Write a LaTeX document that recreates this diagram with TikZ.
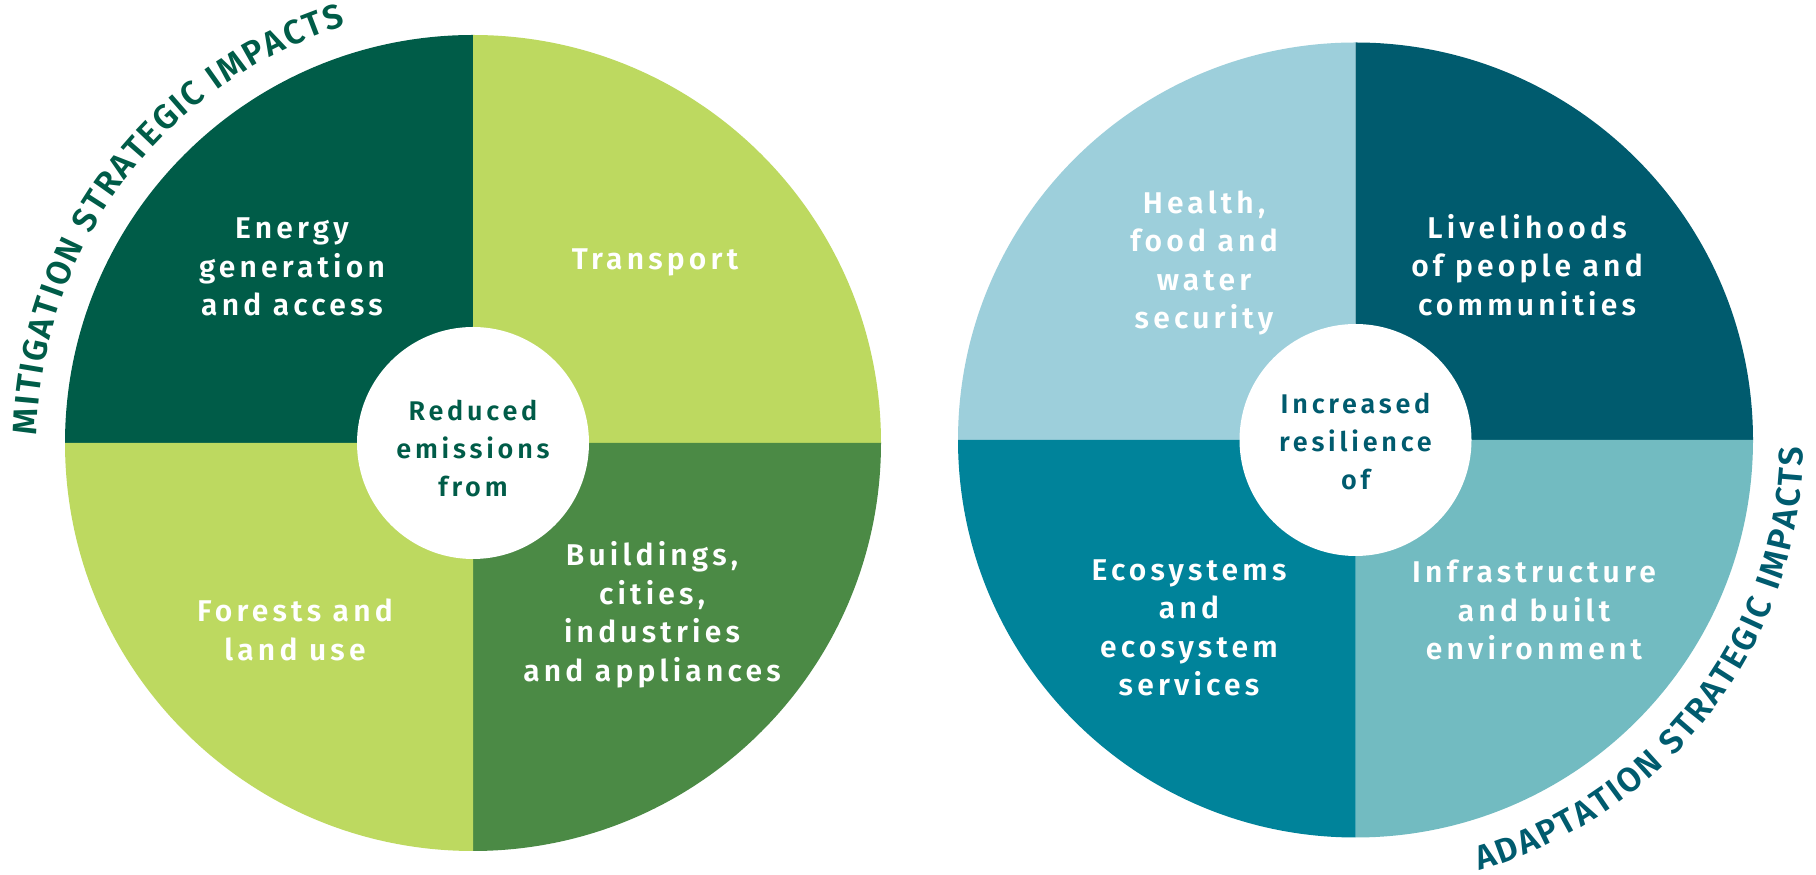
\documentclass[tikz,border=0pt]{standalone}
\usepackage{fontspec}
\setmainfont{Fira Sans}
\newfontfamily\labf[LetterSpace=14]{Fira Sans SemiBold}
\newfontfamily\arcf{Fira Sans SemiBold}
\usetikzlibrary{decorations.text,calc}
\definecolor{mdark}{RGB}{0,92,72}
\definecolor{mlight}{RGB}{189,217,96}
\definecolor{mmid}{RGB}{75,138,69}
\definecolor{alight}{RGB}{157,207,219}
\definecolor{adark}{RGB}{0,91,110}
\definecolor{ateal}{RGB}{0,131,154}
\definecolor{amid}{RGB}{114,187,193}
\begin{document}
\begin{tikzpicture}[x=1pt,y=1pt,
  lab/.style={text=white, align=center, font=\labf\fontsize{30}{38.5}\selectfont, inner sep=0pt},
  core/.style={circle, fill=white, minimum size=232pt, inner sep=0pt},
  ctext/.style={align=center, font=\labf\fontsize{27}{38}\selectfont, inner sep=0pt},
  arctext/.style={decorate, decoration={text along path, text align=fit to path, text color=#1}}]
\useasboundingbox (0,0) rectangle (1816,875);
\fill[white] (0,0) rectangle (1816,875);
\coordinate (cL) at (473,432);
\coordinate (cR) at (1355.5,435);
\def\rL{408}
\def\rR{397.5}
% left wheel
\fill[mdark]  (cL) -- ++(180:\rL) arc[start angle=180,end angle=90,radius=\rL] -- cycle;
\fill[mlight] (cL) -- ++(90:\rL) arc[start angle=90,end angle=0,radius=\rL] -- cycle;
\fill[mmid]   (cL) -- ++(0:\rL) arc[start angle=0,end angle=-90,radius=\rL] -- cycle;
\fill[mlight] (cL) -- ++(-90:\rL) arc[start angle=-90,end angle=-180,radius=\rL] -- cycle;
\node[core] (inL) at (cL) {};
% right wheel
\fill[alight] (cR) -- ++(180:\rR) arc[start angle=180,end angle=90,radius=\rR] -- cycle;
\fill[adark]  (cR) -- ++(90:\rR) arc[start angle=90,end angle=0,radius=\rR] -- cycle;
\fill[amid]   (cR) -- ++(0:\rR) arc[start angle=0,end angle=-90,radius=\rR] -- cycle;
\fill[ateal]  (cR) -- ++(-90:\rR) arc[start angle=-90,end angle=-180,radius=\rR] -- cycle;
\node[core] (inR) at (cR) {};
% left labels
\node[lab] (energy) at (292,608) {Energy\\generation\\and access};
\node[lab] (transport) at (655,613) {Transport};
\node[lab] (forests) at (295,245) {Forests and\\land use};
\node[lab] (buildings) at (652,260) {Buildings,\\cities,\\industries\\and appliances};
\node[ctext, text=mdark] (reduced) at (473,426) {Reduced\\emissions\\from};
% right labels
\node[lab] (health) at (1204,612) {Health,\\food and\\water\\security};
\node[lab] (liveli) at (1527,610) {Livelihoods\\of people and\\communities};
\node[lab] (eco) at (1189,247) {Ecosystems\\and\\ecosystem\\services};
\node[lab] (infra) at (1534,265) {Infrastructure\\and built\\environment};
\node[ctext, text=adark] (increased) at (1355.5,433) {Increased\\resilience\\of};
% curved titles
\coordinate (ls) at ($(cL)+(179:436)$);
\path[arctext=mdark, decoration={text={|\arcf\fontsize{34}{34}\selectfont|MITIGATION STRATEGIC IMPACTS}}]
  (ls) arc[start angle=179,end angle=107,radius=436];
\coordinate (rs) at ($(cR)+(-74:448)$);
\path[arctext=adark, decoration={text={|\arcf\fontsize{34}{34}\selectfont|ADAPTATION STRATEGIC IMPACTS}}]
  (rs) arc[start angle=-74,end angle=-1,radius=448];
\end{tikzpicture}
\end{document}
